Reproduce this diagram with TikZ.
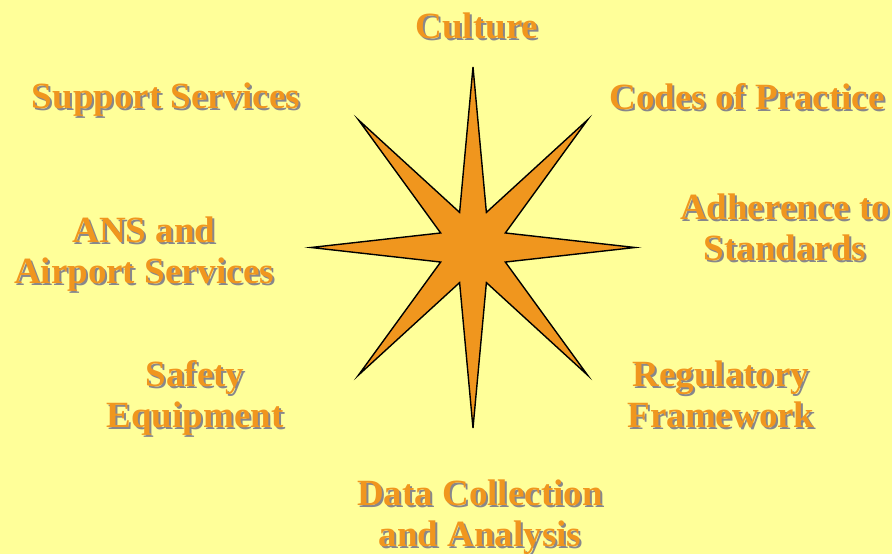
\documentclass[tikz,border=0pt]{standalone}
\usepackage{fontspec}
\setmainfont{Liberation Serif}
\usetikzlibrary{calc}
\definecolor{bgyellow}{RGB}{255,255,153}
\definecolor{starorange}{RGB}{240,150,30}
\definecolor{shadowgray}{RGB}{135,135,140}
\newcommand\shd[1]{\leavevmode\rlap{\kern2pt\raisebox{-2pt}{\textcolor{shadowgray}{#1}}}#1}
\tikzset{
  lbl/.style={font=\bfseries\fontsize{37}{41}\selectfont, text=starorange, align=center, inner sep=0pt},
  starshape/.style={fill=starorange, draw=black, line width=1.4pt, line join=miter}
}
\begin{document}
\begin{tikzpicture}[x=1pt,y=-1pt]
\useasboundingbox (0,0) rectangle (892,554);
\fill[bgyellow] (0,0) rectangle (892,554);
\coordinate (c) at (473,247.5);
\draw[starshape]
  ($(c)+(0,-180.5)$)
  \foreach \k in {0,...,7}{
    -- ($(c)+({35*cos(90+22.5+45*\k)},{-38*sin(90+22.5+45*\k)})$)
    -- ($(c)+({162*cos(90+45*(\k+1))},{-180.5*sin(90+45*(\k+1))})$)
  } -- cycle;
\node[lbl] (cul) at (477,27) {\shd{Culture}};
\node[lbl] (sup) at (166,101) {\shd{Support Services}};
\node[lbl] (cod) at (747,98) {\shd{Codes of Practice}};
\node[lbl] (adh) at (785,228) {\shd{Adherence to}\\\shd{Standards}};
\node[lbl] (ans) at (144,255) {\shd{ANS and}\\\shd{Airport Services}};
\node[lbl] (saf) at (195,399) {\shd{Safety}\\\shd{Equipment}};
\node[lbl] (reg) at (721,395) {\shd{Regulatory}\\\shd{Framework}};
\node[lbl] (dat) at (480,518) {\shd{Data Collection}\\\shd{and Analysis}};
\end{tikzpicture}
\end{document}
